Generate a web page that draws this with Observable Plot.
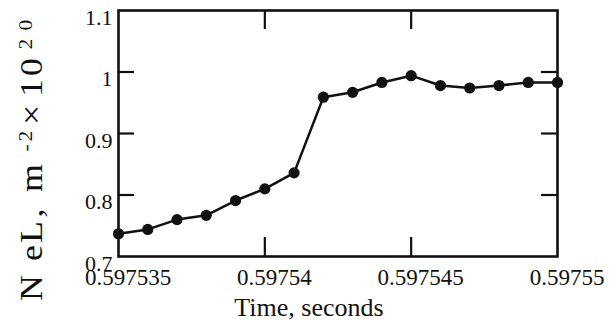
<!DOCTYPE html>
<html>
<head>
<meta charset="utf-8">
<script src="https://cdn.jsdelivr.net/npm/d3@7"></script>
<script src="https://cdn.jsdelivr.net/npm/@observablehq/plot@0.6"></script>
<style>
  html, body { margin: 0; padding: 0; background: #fff; }
  svg { display: block; }
</style>
</head>
<body>
<div id="chart"></div>
<script>
const times = [0.597535, 0.597536, 0.597537, 0.597538, 0.597539, 0.59754, 0.597541, 0.597542,
               0.597543, 0.597544, 0.597545, 0.597546, 0.597547, 0.597548, 0.597549, 0.59755];
const nel = [0.737, 0.744, 0.760, 0.767, 0.791, 0.810, 0.836, 0.959,
             0.967, 0.983, 0.994, 0.978, 0.974, 0.978, 0.983, 0.983];
const xTickValues = [0.597535, 0.59754, 0.597545, 0.59755];
const xTickLabels = ["0.597535", "0.59754", "0.597545", "0.59755"];
const xInnerTicks = [0.59754, 0.597545];
const yTickValues = [0.7, 0.8, 0.9, 1.0, 1.1];
const yTickLabels = ["0.7", "0.8", "0.9", "1", "1.1"];
const yInnerTicks = [0.8, 0.9, 1.0];
const xTitle = "Time, seconds";
// y title pieces: [text, superscript?]
const yTitleParts = [["N", 0], ["e", 0], ["L", 0], [",", 0], ["m", 0], ["-", 1], ["2", 1],
                     ["\u00D7", 0], ["1", 0], ["0", 0], ["2", 1], ["0", 1]];

const data = times.map((t, i) => ({t, v: nel[i]}));
const font = "'Liberation Serif', 'Times New Roman', serif";
const W = 616, H = 325, mL = 118, mR = 59, mT = 10, mB = 69;
const fw = W - mL - mR, fh = H - mT - mB;
const xTickLen = 19, yTickLen = 16;
const ink = "#111";

const chart = Plot.plot({
  width: W, height: H,
  marginLeft: mL, marginRight: mR, marginTop: mT, marginBottom: mB,
  style: {fontFamily: font, background: "#fff", color: ink},
  x: {domain: [0.597535, 0.59755], axis: null},
  y: {domain: [0.7, 1.1], axis: null},
  marks: [
    Plot.tickX(xInnerTicks, {x: d => d, insetTop: fh - xTickLen, stroke: ink, strokeWidth: 2.2}),
    Plot.tickX(xInnerTicks, {x: d => d, insetBottom: fh - xTickLen, stroke: ink, strokeWidth: 2.2}),
    Plot.tickY(yInnerTicks, {y: d => d, insetRight: fw - yTickLen, stroke: ink, strokeWidth: 2.2}),
    Plot.tickY(yInnerTicks, {y: d => d, insetLeft: fw - yTickLen, stroke: ink, strokeWidth: 2.2}),
    Plot.line(data, {x: "t", y: "v", stroke: ink, strokeWidth: 2.5}),
    Plot.dot(data, {x: "t", y: "v", r: 5.6, fill: ink, stroke: "none"}),
    Plot.frame({stroke: ink, strokeWidth: 2.6}),
    Plot.text(xTickValues, {x: d => d, text: (d, i) => xTickLabels[i], frameAnchor: "bottom",
      dy: 21, dx: 9.5, fontSize: 23, fill: ink, lineAnchor: "middle"}),
    Plot.text(yTickValues, {y: d => d, text: (d, i) => yTickLabels[i], frameAnchor: "left",
      dx: -6, dy: 7, fontSize: 22, fill: ink, textAnchor: "end", lineAnchor: "middle"}),
    Plot.text([xTitle], {text: d => d, frameAnchor: "bottom", dx: -29, dy: 51,
      fontSize: 26, fill: ink, lineAnchor: "middle"})
  ]
});

// Rotated y-axis title with superscripts (letter-spaced as in the reference)
const svg = d3.select(chart);
const g = svg.append("g")
  .attr("transform", "translate(42,291) rotate(-90)")
  .attr("font-family", font)
  .attr("fill", ink);
const offsets = [3, 38, 59, 78, 113, 143, 155, 176, 203, 224, 247, 266];
yTitleParts.forEach(([c, sup], i) => {
  g.append("text")
    .attr("transform", `translate(${offsets[i]},${sup ? -10 : 0}) scale(${sup ? 1.2 : 1.12},1)`)
    .attr("font-size", sup ? 18 : 32)
    .text(c);
});

document.getElementById("chart").appendChild(chart);
</script>
</body>
</html>
